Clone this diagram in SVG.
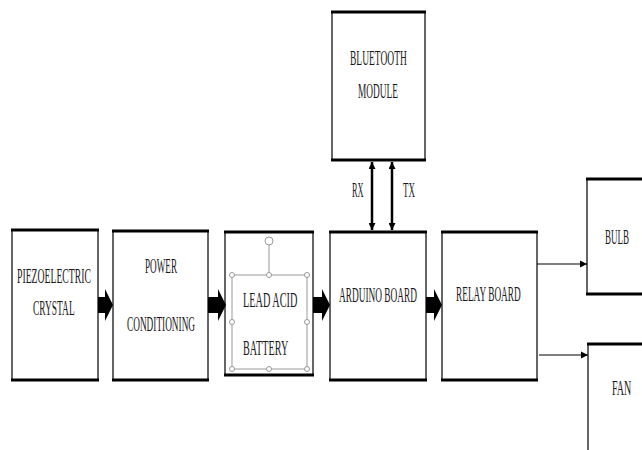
<svg xmlns="http://www.w3.org/2000/svg" width="642" height="450" viewBox="0 0 642 450">
<defs>
<style>
.box{fill:#fff;stroke:#333;stroke-width:1.5}
.edge{stroke:#000;stroke-width:3}
.t{font-family:"Liberation Serif","Times New Roman",serif;font-size:22px;fill:#1a1a1a}
.blk{fill:#000}
.sel{fill:none;stroke:#999;stroke-width:1}
.hd{fill:#fff;stroke:#999;stroke-width:1}
.thin{stroke:#000;stroke-width:1.2;fill:none}
.dbl{stroke:#000;stroke-width:2.5;fill:none}
</style>
<marker id="ah" viewBox="0 0 10 10" refX="10" refY="5" markerWidth="7" markerHeight="8" markerUnits="userSpaceOnUse" orient="auto"><path d="M0,0 L10,5 L0,10 Z" fill="#000"/></marker>
<marker id="ah2" viewBox="0 0 10 10" refX="10" refY="5" markerWidth="8" markerHeight="7" markerUnits="userSpaceOnUse" orient="auto-start-reverse"><path d="M0,0 L10,5 L0,10 Z" fill="#000"/></marker>
</defs>
<rect width="642" height="450" fill="#fff"/>

<g id="piezo">
<rect class="box" x="12" y="230" width="86" height="150"/>
<line class="edge" x1="11" y1="230" x2="99" y2="230"/><line class="edge" x1="11" y1="380" x2="99" y2="380"/>
<text class="t" transform="matrix(0.442,0,0,1,17,283)">PIEZOELECTRIC</text>
<text class="t" transform="matrix(0.429,0,0,1,33,315)">CRYSTAL</text>
</g>

<g id="power">
<rect class="box" x="113" y="231" width="95" height="149"/>
<line class="edge" x1="112" y1="231" x2="209" y2="231"/><line class="edge" x1="112" y1="380" x2="209" y2="380"/>
<text class="t" transform="matrix(0.416,0,0,1,145,273)">POWER</text>
<text class="t" transform="matrix(0.422,0,0,1,127,331)">CONDITIONING</text>
</g>

<g id="battery">
<rect class="box" x="225" y="232" width="88" height="143"/>
<line class="edge" x1="224" y1="232" x2="314" y2="232"/><line class="edge" x1="224" y1="375" x2="314" y2="375"/>
<rect class="sel" x="232" y="275" width="75" height="94"/>
<line class="sel" x1="269" y1="245" x2="269" y2="275"/>
<circle class="hd" cx="269" cy="241" r="4"/>
<circle class="hd" cx="232" cy="275" r="2.5"/><circle class="hd" cx="269" cy="275" r="2.5"/><circle class="hd" cx="307" cy="275" r="2.5"/>
<circle class="hd" cx="232" cy="322" r="2.5"/><circle class="hd" cx="307" cy="322" r="2.5"/>
<circle class="hd" cx="232" cy="369" r="2.5"/><circle class="hd" cx="269" cy="369" r="2.5"/><circle class="hd" cx="307" cy="369" r="2.5"/>
<text class="t" transform="matrix(0.466,0,0,1,243,307)">LEAD ACID</text>
<text class="t" transform="matrix(0.463,0,0,1,243,355)">BATTERY</text>
</g>

<g id="arduino">
<rect class="box" x="330" y="232" width="96" height="148"/>
<line class="edge" x1="329" y1="232" x2="427" y2="232"/><line class="edge" x1="329" y1="380" x2="427" y2="380"/>
<text class="t" transform="matrix(0.424,0,0,1,339,302)">ARDUINO BOARD</text>
</g>

<g id="relay">
<rect class="box" x="442" y="232" width="95" height="148"/>
<line class="edge" x1="441" y1="232" x2="538" y2="232"/><line class="edge" x1="441" y1="380" x2="538" y2="380"/>
<text class="t" transform="matrix(0.424,0,0,1,456,301)">RELAY BOARD</text>
</g>

<g id="bluetooth">
<rect class="box" x="332" y="12" width="93" height="148"/>
<line class="edge" x1="331" y1="12" x2="426" y2="12"/><line class="edge" x1="331" y1="160" x2="426" y2="160"/>
<text class="t" transform="matrix(0.432,0,0,1,350,65)">BLUETOOTH</text>
<text class="t" transform="matrix(0.425,0,0,1,358,98)">MODULE</text>
</g>

<g id="bulb">
<rect class="box" x="587" y="179" width="70" height="115"/>
<line class="edge" x1="586" y1="179" x2="642" y2="179"/><line class="edge" x1="586" y1="294" x2="642" y2="294"/>
<text class="t" transform="matrix(0.41,0,0,1,605,244)">BULB</text>
</g>

<g id="fan">
<rect class="box" x="588" y="344" width="70" height="130"/>
<line class="edge" x1="587" y1="344" x2="642" y2="344"/>
<text class="t" transform="matrix(0.455,0,0,1,612,395)">FAN</text>
</g>

<g id="connectors">
<polygon class="blk" points="98,297 105,297 105,289 113,305 105,321 105,313 98,313"/>
<polygon class="blk" points="208,297 218,297 218,289 226,305 218,321 218,313 208,313"/>
<polygon class="blk" points="313,297 322,297 322,289 330,305 322,321 322,313 313,313"/>
<polygon class="blk" points="426,297 434,297 434,289 442,305 434,321 434,313 426,313"/>
<line class="dbl" x1="372" y1="162" x2="372" y2="230" marker-start="url(#ah2)" marker-end="url(#ah2)"/>
<line class="dbl" x1="392" y1="162" x2="392" y2="230" marker-start="url(#ah2)" marker-end="url(#ah2)"/>
<text class="t" transform="matrix(0.38,0,0,1,352,197)">RX</text>
<text class="t" transform="matrix(0.41,0,0,1,403,197)">TX</text>
<line class="thin" x1="537" y1="264" x2="587" y2="264" marker-end="url(#ah)"/>
<line class="thin" x1="539" y1="355" x2="588" y2="355" marker-end="url(#ah)"/>
</g>
</svg>
